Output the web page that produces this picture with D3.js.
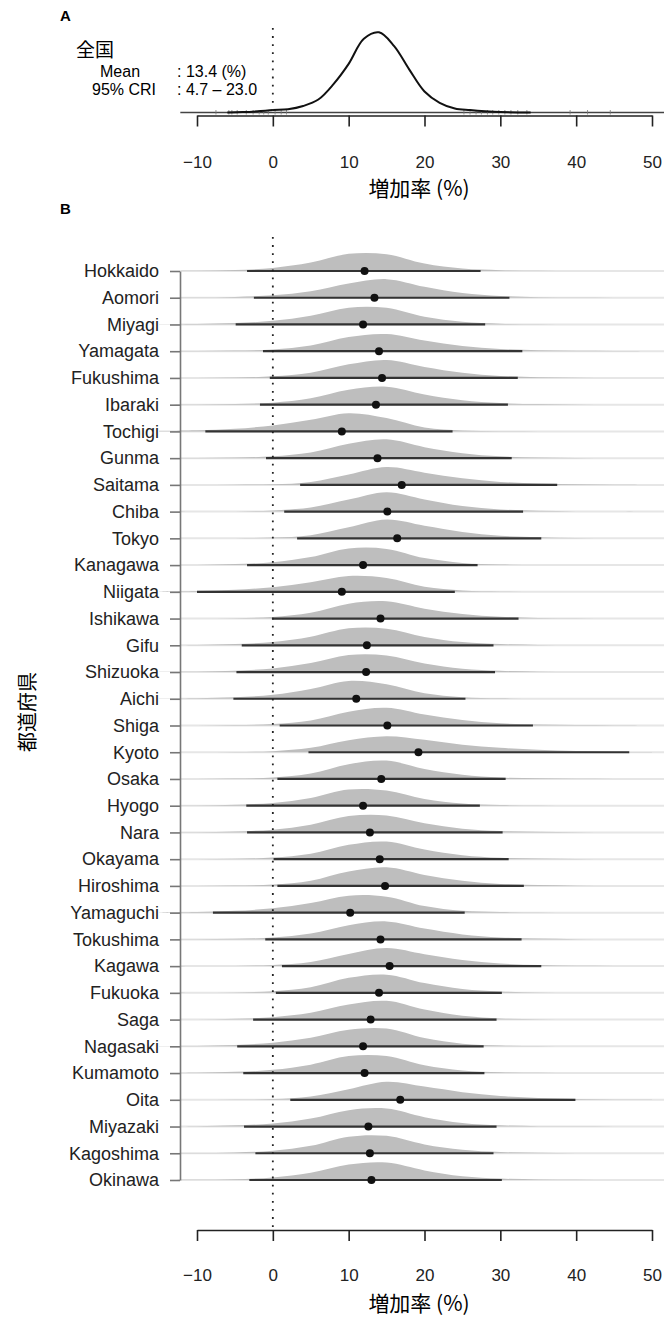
<!DOCTYPE html>
<html>
<head>
<meta charset="utf-8">
<script src="https://cdn.jsdelivr.net/npm/d3@7"></script>
<style>
  body { margin: 0; background: #fff; }
</style>
</head>
<body>
<div class="chart"></div>
<script>
// ---- data ----
const prefectures = ["Hokkaido", "Aomori", "Miyagi", "Yamagata", "Fukushima", "Ibaraki", "Tochigi",
    "Gunma", "Saitama", "Chiba", "Tokyo", "Kanagawa", "Niigata", "Ishikawa", "Gifu", "Shizuoka",
    "Aichi", "Shiga", "Kyoto", "Osaka", "Hyogo", "Nara", "Okayama", "Hiroshima", "Yamaguchi",
    "Tokushima", "Kagawa", "Fukuoka", "Saga", "Nagasaki", "Kumamoto", "Oita", "Miyazaki",
    "Kagoshima", "Okinawa"];

const means = [12.1, 13.4, 11.9, 14.0, 14.4, 13.6, 9.1, 13.8, 17.0, 15.1, 16.4, 11.9, 9.1, 14.2,
    12.4, 12.3, 11.0, 15.1, 19.2, 14.3, 11.9, 12.8, 14.1, 14.8, 10.2, 14.2, 15.4, 14.0, 12.9,
    11.9, 12.1, 16.8, 12.6, 12.8, 13.0];

const lower = [-3.4, -2.5, -4.9, -1.3, -0.4, -1.7, -8.9, -0.9, 3.6, 1.5, 3.2, -3.4, -10.0, -0.1,
    -4.1, -4.8, -5.2, 0.9, 4.7, 0.6, -3.5, -3.4, 0.1, 0.6, -7.9, -1.0, 1.2, 0.4, -2.6, -4.7,
    -3.9, 2.3, -3.8, -2.3, -3.1];

const upper = [27.4, 31.2, 28.0, 32.9, 32.3, 31.0, 23.7, 31.5, 37.5, 33.0, 35.4, 27.0, 24.0, 32.4,
    29.1, 29.3, 25.4, 34.3, 47.0, 30.7, 27.3, 30.3, 31.1, 33.1, 25.3, 32.8, 35.4, 30.2, 29.5,
    27.8, 27.9, 39.9, 29.5, 29.1, 30.2];

// posterior density (relative) of each prefecture at these growth rates
const densGrid = [-15, -10, -5, 0, 5, 10, 15, 20, 25, 30, 35, 40, 45, 50];
const densities = [
    [0, 1, 5, 15, 42, 86, 84, 37, 12, 4, 1, 0, 0, 0],   // Hokkaido
    [0, 1, 4, 12, 32, 71, 93, 55, 24, 9, 3, 1, 0, 0],   // Aomori
    [1, 2, 7, 18, 44, 84, 83, 38, 13, 4, 1, 0, 0, 0],   // Miyagi
    [0, 1, 3, 9, 29, 71, 86, 53, 26, 11, 5, 2, 1, 0],   // Yamagata
    [0, 0, 2, 8, 26, 68, 90, 55, 26, 10, 4, 1, 0, 0],   // Fukushima
    [0, 1, 3, 10, 32, 75, 90, 51, 22, 8, 3, 1, 0, 0],   // Ibaraki
    [3, 6, 13, 30, 58, 91, 67, 20, 5, 1, 0, 0, 0, 0],   // Tochigi
    [0, 1, 3, 9, 28, 72, 94, 55, 25, 9, 3, 1, 0, 0],    // Gunma
    [0, 0, 1, 3, 15, 52, 89, 61, 33, 15, 7, 3, 1, 0],   // Saitama
    [0, 0, 1, 6, 21, 60, 97, 61, 28, 11, 4, 1, 0, 0],   // Chiba
    [0, 0, 1, 4, 16, 55, 94, 63, 32, 13, 6, 2, 1, 0],   // Tokyo
    [0, 1, 5, 14, 40, 83, 81, 35, 11, 3, 1, 0, 0, 0],   // Kanagawa
    [2, 4, 10, 23, 48, 79, 69, 25, 7, 2, 0, 0, 0, 0],   // Niigata
    [0, 0, 2, 8, 29, 74, 86, 49, 23, 9, 3, 1, 0, 0],    // Ishikawa
    [0, 2, 6, 16, 43, 85, 83, 42, 16, 6, 2, 0, 0, 0],   // Gifu
    [1, 2, 7, 18, 45, 85, 83, 43, 16, 6, 2, 0, 0, 0],   // Shizuoka
    [1, 3, 7, 20, 49, 89, 72, 27, 8, 2, 0, 0, 0, 0],    // Aichi
    [0, 0, 2, 7, 25, 69, 89, 55, 27, 11, 5, 2, 1, 0],   // Shiga
    [0, 0, 1, 5, 22, 60, 80, 62, 38, 22, 12, 6, 3, 1],  // Kyoto
    [0, 0, 2, 7, 27, 74, 92, 50, 21, 7, 3, 1, 0, 0],    // Osaka
    [0, 1, 5, 14, 39, 81, 76, 34, 11, 3, 1, 0, 0, 0],   // Hyogo
    [0, 1, 5, 14, 39, 82, 85, 46, 19, 7, 3, 1, 0, 0],   // Nara
    [0, 0, 2, 8, 27, 72, 88, 48, 20, 7, 3, 1, 0, 0],    // Okayama
    [0, 0, 2, 7, 26, 72, 93, 55, 26, 10, 4, 1, 0, 0],   // Hiroshima
    [1, 3, 9, 22, 48, 85, 80, 33, 9, 3, 1, 0, 0, 0],    // Yamaguchi
    [0, 1, 3, 9, 29, 71, 90, 54, 25, 10, 4, 1, 0, 0],   // Tokushima
    [0, 0, 1, 6, 21, 61, 90, 59, 30, 13, 5, 2, 1, 0],   // Kagawa
    [0, 0, 2, 8, 28, 75, 91, 49, 19, 7, 2, 1, 0, 0],    // Fukuoka
    [0, 1, 4, 12, 34, 75, 94, 50, 19, 6, 2, 0, 0, 0],   // Saga
    [1, 2, 7, 18, 43, 83, 89, 41, 13, 4, 1, 0, 0, 0],   // Nagasaki
    [0, 2, 6, 16, 42, 85, 85, 39, 13, 4, 1, 0, 0, 0],   // Kumamoto
    [0, 0, 1, 4, 17, 53, 90, 66, 38, 19, 9, 4, 2, 1],   // Oita
    [0, 2, 6, 15, 40, 82, 90, 47, 18, 6, 2, 1, 0, 0],   // Miyazaki
    [0, 1, 4, 12, 37, 83, 87, 44, 17, 6, 2, 0, 0, 0],   // Kagoshima
    [0, 1, 4, 13, 36, 77, 87, 48, 19, 7, 3, 1, 0, 0]    // Okinawa
];

// national posterior (panel A)
const nationalGrid = [-6, -4, -2, 0, 2, 4, 6, 8, 10, 12, 14, 16, 18, 20, 22, 24, 26, 28, 30, 34];
const nationalDens = [0, 0.5, 1.5, 3, 4, 8, 16, 35, 60, 91, 99, 82, 53, 26, 12, 5, 3, 1.5, 0.5, 0];
const rugValues = [-7.5, -5.8, -5.4, -4.7, -3.5, -2.6, -1.8, -1.2, -0.6, 0.3, 1.1, 1.8,
    25.2, 26.0, 26.8, 27.5, 28.3, 29.0, 29.8, 30.6, 31.4, 32.3, 33.5, 39.2, 41.5, 44.5];
const nationalMean = "13.4";
const nationalCri = ["4.7", "23.0"];

const xTicks = [-10, 0, 10, 20, 30, 40, 50];
const tailRange = [-12.2, 52];   // extent of the sampled tails

// ---- layout ----
const width = 664;
const height = 1317;
const fontLatin = '"Liberation Sans", Arial, Helvetica, sans-serif';
const fontCJK = '"Noto Sans CJK JP", "Liberation Sans", sans-serif';

const svg = d3.select('.chart').append('svg')
    .attr('width', width)
    .attr('height', height)
    .style('font-family', fontLatin);

const xScale = d3.scaleLinear()
    .domain([-10, 50])
    .range([197, 652]);

const yScale = d3.scalePoint()
    .domain(prefectures)
    .range([271, 1180]);

const ridgeScale = d3.scaleLinear()
    .domain([0, 100])
    .range([0, 20]);

const natBase = 112.5;
const natScale = d3.scaleLinear()
    .domain([0, 100])
    .range([natBase, 31.5]);

function styleAxis(g, size) {
    g.selectAll('path, line').attr('stroke', '#222').attr('stroke-width', 1.6);
    g.selectAll('text').attr('fill', '#222').style('font-size', size + 'px');
}

// ---- PANEL A ----
svg.append('text')
    .attr('x', 60).attr('y', 21)
    .style('font-weight', 'bold').style('font-size', '15px')
    .text('A');

svg.append('line')
    .attr('x1', xScale(tailRange[0])).attr('x2', xScale(tailRange[1]))
    .attr('y1', natBase).attr('y2', natBase)
    .attr('stroke', '#444').attr('stroke-width', 1.6);

svg.append('g').selectAll('line')
    .data(rugValues)
    .enter()
    .append('line')
    .attr('x1', d => xScale(d)).attr('x2', d => xScale(d))
    .attr('y1', natBase - 2.5).attr('y2', natBase + 2)
    .attr('stroke', '#777').attr('stroke-width', 0.8);

const natLine = d3.line()
    .x(d => xScale(d[0]))
    .y(d => natScale(d[1]))
    .curve(d3.curveCatmullRom);

svg.append('path')
    .datum(nationalGrid.map((v, i) => [v, nationalDens[i]]))
    .attr('d', natLine)
    .attr('fill', 'none')
    .attr('stroke', '#111')
    .attr('stroke-width', 2);

svg.append('line')
    .attr('x1', xScale(0)).attr('x2', xScale(0))
    .attr('y1', 28).attr('y2', natBase)
    .attr('stroke', '#222').attr('stroke-width', 1.8)
    .attr('stroke-dasharray', '1.8,6.3');

svg.append('text')
    .attr('x', 76).attr('y', 57)
    .style('font-family', fontCJK).style('font-size', '19px')
    .text('全国');
svg.append('text').attr('x', 100).attr('y', 77).style('font-size', '16px').text('Mean');
svg.append('text').attr('x', 177).attr('y', 77).style('font-size', '16px')
    .text(': ' + nationalMean + ' (%)');
svg.append('text').attr('x', 92).attr('y', 95).style('font-size', '16px').text('95% CRI');
svg.append('text').attr('x', 177).attr('y', 95).style('font-size', '16px')
    .text(': ' + nationalCri[0] + ' \u2013 ' + nationalCri[1]);

svg.append('g')
    .attr('transform', 'translate(0,115.5)')
    .call(d3.axisBottom(xScale).tickValues(xTicks).tickSize(11).tickSizeOuter(0).tickPadding(29))
    .call(g => styleAxis(g, 17));

svg.append('text')
    .attr('x', 419).attr('y', 196)
    .attr('text-anchor', 'middle')
    .style('font-family', fontCJK).style('font-size', '21px')
    .text('増加率 (%)');

// ---- PANEL B ----
svg.append('text')
    .attr('x', 60).attr('y', 214)
    .style('font-weight', 'bold').style('font-size', '15px')
    .text('B');

const rows = prefectures.map((p, i) => ({
    name: p,
    mean: means[i],
    lo: lower[i],
    hi: upper[i],
    dens: densGrid.map((v, j) => [v, densities[i][j]])
}));

const rowG = svg.append('g').selectAll('g')
    .data(rows)
    .enter()
    .append('g')
    .attr('transform', d => `translate(0,${yScale(d.name)})`);

rowG.append('line')
    .attr('x1', xScale(tailRange[0])).attr('x2', xScale(tailRange[1]))
    .attr('y1', 0).attr('y2', 0)
    .attr('stroke', '#e6e6e6').attr('stroke-width', 2);

const ridgeArea = d3.area()
    .x(d => xScale(d[0]))
    .y0(0)
    .y1(d => -ridgeScale(Math.max(0, d[1])))
    .curve(d3.curveCatmullRom);

rowG.append('path')
    .attr('d', d => ridgeArea(d.dens))
    .attr('fill', '#bebebe');

// zero reference
svg.append('line')
    .attr('x1', xScale(0)).attr('x2', xScale(0))
    .attr('y1', 237).attr('y2', 1228)
    .attr('stroke', '#222').attr('stroke-width', 1.8)
    .attr('stroke-dasharray', '1.8,6.3');

rowG.append('line')
    .attr('x1', d => xScale(d.lo)).attr('x2', d => xScale(d.hi))
    .attr('y1', 0).attr('y2', 0)
    .attr('stroke', '#333').attr('stroke-width', 2.2);

rowG.append('circle')
    .attr('cx', d => xScale(d.mean))
    .attr('cy', 0)
    .attr('r', 4)
    .attr('fill', '#111');

svg.append('g')
    .attr('transform', 'translate(180,0)')
    .call(d3.axisLeft(yScale).tickSize(10).tickSizeOuter(0).tickPadding(11))
    .call(g => {
        g.selectAll('path, line').attr('stroke', '#777').attr('stroke-width', 1.6);
        g.selectAll('text').attr('fill', '#222').style('font-size', '18px');
    });

svg.append('text')
    .attr('transform', 'translate(26,712) rotate(-90)')
    .attr('text-anchor', 'middle')
    .attr('dominant-baseline', 'central')
    .style('font-family', fontCJK).style('font-size', '20px')
    .text('都道府県');

svg.append('g')
    .attr('transform', 'translate(0,1230)')
    .call(d3.axisBottom(xScale).tickValues(xTicks).tickSize(11).tickSizeOuter(0).tickPadding(28))
    .call(g => styleAxis(g, 17));

svg.append('text')
    .attr('x', 419).attr('y', 1311)
    .attr('text-anchor', 'middle')
    .style('font-family', fontCJK).style('font-size', '21px')
    .text('増加率 (%)');
</script>
</body>
</html>
